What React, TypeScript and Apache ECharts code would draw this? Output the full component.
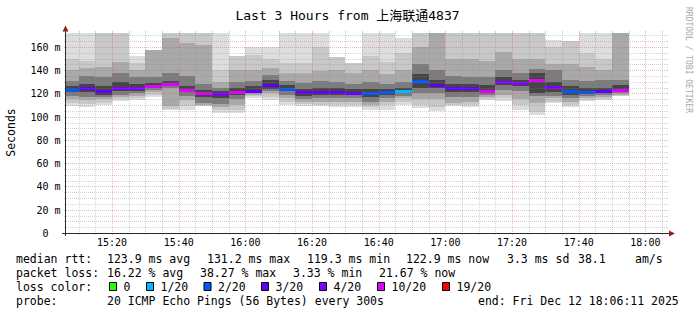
import React, { useEffect, useRef } from "react";
import * as echarts from "echarts";

// ---------- data ----------
const slots = ["15:05","15:10","15:15","15:20","15:25","15:30","15:35","15:40","15:45","15:50","15:55","16:00","16:05","16:10","16:15","16:20","16:25","16:30","16:35","16:40","16:45","16:50","16:55","17:00","17:05","17:10","17:15","17:20","17:25","17:30","17:35","17:40","17:45","17:50"];
const medianMs = [123.0,124.8,122.0,124.8,124.7,126.5,128.3,123.0,120.0,119.3,121.6,122.5,127.5,124.2,121.4,121.4,121.2,120.6,120.2,121.0,121.8,131.0,127.5,124.4,124.5,122.3,130.0,128.7,131.2,125.6,121.8,121.4,121.8,122.9];
const lossPings = [2,3,3,4,4,6,5.67,5.33,7.65,4,5,3,3,2,3,3,3,3,2,2,0.67,2,3,3,3,5.33,4,4,6.33,4,2,2,3,4.33];
// smoke bands, outermost (1) to innermost (5)
const smokeHi1 = [180,180,180,180,152,157.5,180,180,180,180,152,160,160,180,180,180,151,146,180,180,167.5,180,180,180,180,180,180,180,180,166.3,164.7,180,180,180];
const smokeHi2 = [150,148,180,180,146,157.5,180,180,180,140,152,153,150,146,146,160,151,146,152,147,155,180,180,180,180,180,180,180,180,160,164.7,155,150,180];
const smokeHi3 = [140,142,143,147,140,157.5,168,163,162,130,140,140,142,138,138,139,140,138,140,137,140,160,180,150,150,148,156,150,150,145,145,143,140,180];
const smokeHi4 = [131,135,134,138,134,134,138,135,128,125,130,131,136,131,129,131,130,128,130,128,130,145,140,135,134,134,140,138,141,140,132,131,132,132];
const smokeHi5 = [126,128,126,130,128,129,131,126,123,122,125,126,132,127,124,125,125,124,124,124,125,137,132,128,128,127,134,132,138,130,126,125,125,127];
const smokeLo5 = [121,121,119,122,122,125,127,121,117,116,119,121,124,122,118,119,119,118.5,117,119,120,125,125,121,121,121,127,126,120.5,121,119,119.5,120,122];
const smokeLo4 = [118,117,117,119,120,123,125,118,112,111,115,120,122,119,115,116,116,116,113,116,118,120,120,117,117,119,123,122,118,118,116,117.5,118.5,120];
const smokeLo3 = [115,114,115,117,118,121,109,114,110,108,110,119,120,116,113,113,113,113,110,113,116,115,115,112,113,117,119,115,112,116,113,116,117,119];
const smokeLo2 = [112,111,112,115,116,119,106.5,109,109.5,106,106,117.5,117,113,111,110.5,110,110,108,110,113,110,108,110,110,115.5,116,110,104,113,110,114.5,115.5,118];
const smokeLo1 = [109,108.5,110,113.5,114.5,117,105.5,106,109.5,103.5,103.6,116,114.5,110,109.5,109,108.5,108.5,106,106,110.5,107.8,105,109,108.5,114.5,113.8,106,101.7,111.5,108.5,113.5,114.5,117.5];

const yTickValues = [0,20,40,60,80,100,120,140,160];
const xTickLabels = ["15:20","15:40","16:00","16:20","16:40","17:00","17:20","17:40","18:00"];
const lossThresholds = [0,1,2,3,4,10,19];
const lossLabels = ["0","1/20","2/20","3/20","4/20","10/20","19/20"];
const lossColors = ["#26ff00","#00b8ff","#0059ff","#5e00ff","#7e00ff","#dd00ff","#ff0000"];
const rttStats = ["123.9 ms avg","131.2 ms max","119.3 ms min","122.9 ms now","3.3 ms sd","38.1","am/s"];
const lossStats = ["16.22 % avg","38.27 % max","3.33 % min","21.67 % now"];
const probeText = "20 ICMP Echo Pings (56 Bytes) every 300s";
const endText = "end: Fri Dec 12 18:06:11 2025";
const titleText = "Last 3 Hours from 上海联通4837";
const rangeStart = "15:06:11";
const rangeEnd = "18:06:11";
const STEP = 300;
const Y_MAX = 172;

// ---------- layout / style ----------
const MONO = "'DejaVu Sans Mono', 'Noto Sans CJK SC', monospace";
const SHADES = ["#dddddd", "#c8c8c8", "#a9a9a9", "#7c7c7c", "#454545"];
const MINOR = "rgba(140,140,140,0.38)";
const MAJOR = "rgba(215,60,60,0.36)";
const rttX = [107, 207, 307, 406, 507, 578, 635];
const lossX = [107, 200, 293, 379];
const boxX = [109, 146, 203.5, 261, 319, 377, 442];

const toSec = (s: string) => {
  const p = s.split(":").map(Number);
  return p[0] * 3600 + p[1] * 60 + (p[2] || 0);
};
const T0 = toSec(rangeStart);
const T1 = toSec(rangeEnd);

function lossColor(l: number) {
  for (let i = 0; i < lossThresholds.length; i++) if (l <= lossThresholds[i]) return lossColors[i];
  return lossColors[lossColors.length - 1];
}

function txt(x: number, y: number, text: string, o: any = {}) {
  const align = o.align || "left";
  return {
    type: "text",
    x, y,
    rotation: o.rotation || 0,
    silent: true,
    z: 20,
    style: {
      text,
      fontSize: o.size || 11.5,
      fontFamily: o.family || MONO,
      fill: o.fill || "#000",
      align, verticalAlign: "middle",
      textAlign: align, textVerticalAlign: "middle",
    },
  };
}

export default function App() {
  const ref = useRef<HTMLDivElement>(null);
  useEffect(() => {
    const chart = echarts.init(ref.current!, null, { renderer: "svg" });

    const smokeData = slots.map((s, i) => [
      toSec(s),
      smokeLo1[i], smokeHi1[i], smokeLo2[i], smokeHi2[i], smokeLo3[i], smokeHi3[i],
      smokeLo4[i], smokeHi4[i], smokeLo5[i], smokeHi5[i],
    ]);
    const medianData = slots.map((s, i) => [toSec(s), medianMs[i], lossPings[i]]);

    const hGrid: number[][] = [];
    for (let v = 5; v < Y_MAX; v += 5) hGrid.push([T0, v]);
    const vGrid: number[][] = [];
    for (let t = Math.ceil(T0 / STEP) * STEP; t <= T1; t += STEP) vGrid.push([t, 0]);

    const clampRect = (p1: number[], p2: number[], cs: any) => {
      const x1 = Math.max(Math.round(p1[0]), cs.x);
      const x2 = Math.min(Math.round(p2[0]), cs.x + cs.width);
      const y1 = Math.max(Math.round(p1[1]), cs.y);
      const y2 = Math.min(Math.round(p2[1]), cs.y + cs.height);
      return { x: x1, y: y1, width: x2 - x1, height: y2 - y1 };
    };

    const option: any = {
      animation: false,
      backgroundColor: "#ffffff",
      grid: { left: 66, top: 33, width: 600, height: 200 },
      xAxis: { type: "value", min: T0, max: T1, show: false },
      yAxis: { type: "value", min: 0, max: Y_MAX, show: false },
      series: [
        {
          type: "custom",
          name: "smoke",
          silent: true,
          z: 2,
          data: smokeData,
          renderItem: (params: any, api: any) => {
            const cs = params.coordSys;
            const t = api.value(0);
            const children: any[] = [];
            for (let k = 0; k < 5; k++) {
              const lo = api.value(1 + 2 * k);
              const hi = api.value(2 + 2 * k);
              const r = clampRect(api.coord([t, hi]), api.coord([t + STEP, lo]), cs);
              if (r.width > 0 && r.height > 0)
                children.push({ type: "rect", shape: r, style: { fill: SHADES[k] } });
            }
            return { type: "group", children };
          },
        },
        {
          type: "custom",
          name: "median",
          silent: true,
          z: 3,
          data: medianData,
          renderItem: (params: any, api: any) => {
            const cs = params.coordSys;
            const t = api.value(0);
            const p1 = api.coord([t, api.value(1)]);
            const p2 = api.coord([t + STEP, api.value(1)]);
            const x1 = Math.max(Math.round(p1[0]), cs.x);
            const x2 = Math.min(Math.round(p2[0]), cs.x + cs.width);
            const yc = Math.round(p1[1]);
            return {
              type: "rect",
              shape: { x: x1, y: yc - 1, width: x2 - x1, height: 3 },
              style: { fill: lossColor(api.value(2)) },
            };
          },
        },
        {
          type: "custom",
          name: "hgrid",
          silent: true,
          z: 4,
          clip: false,
          data: hGrid,
          renderItem: (params: any, api: any) => {
            const cs = params.coordSys;
            const v = api.value(1);
            const y = Math.round(api.coord([T0, v])[1]) + 0.5;
            const c = v % 20 === 0 ? MAJOR : MINOR;
            const X0 = cs.x, X1 = cs.x + cs.width;
            return {
              type: "group",
              children: [
                { type: "line", shape: { x1: X0 - 2, y1: y, x2: X0, y2: y }, style: { stroke: c, lineWidth: 1 } },
                { type: "line", shape: { x1: X1, y1: y, x2: X1 + 2, y2: y }, style: { stroke: c, lineWidth: 1 } },
                { type: "line", shape: { x1: X0, y1: y, x2: X1, y2: y }, style: { stroke: c, lineWidth: 1, lineDash: [1, 1] } },
              ],
            };
          },
        },
        {
          type: "custom",
          name: "vgrid",
          silent: true,
          z: 4,
          clip: false,
          data: vGrid,
          renderItem: (params: any, api: any) => {
            const cs = params.coordSys;
            const t = api.value(0);
            const x = Math.round(api.coord([t, 0])[0]) + 0.5;
            const c = t % 1200 === 0 ? MAJOR : MINOR;
            const Y0 = cs.y + cs.height, Y1 = cs.y;
            return {
              type: "group",
              children: [
                { type: "line", shape: { x1: x, y1: Y0, x2: x, y2: Y0 + 2 }, style: { stroke: c, lineWidth: 1 } },
                { type: "line", shape: { x1: x, y1: Y1 - 2, x2: x, y2: Y1 }, style: { stroke: c, lineWidth: 1 } },
                { type: "line", shape: { x1: x, y1: Y1, x2: x, y2: Y0 }, style: { stroke: c, lineWidth: 1, lineDash: [1, 1] } },
              ],
            };
          },
        },
        {
          type: "custom",
          name: "xlabels",
          silent: true,
          z: 5,
          clip: false,
          data: xTickLabels.map((s) => [toSec(s), 0]),
          renderItem: (params: any, api: any) => {
            const cs = params.coordSys;
            const p = api.coord([api.value(0), 0]);
            return txt(p[0], cs.y + cs.height + 9.5, xTickLabels[params.dataIndex], { size: 10, align: "center" });
          },
        },
        {
          type: "custom",
          name: "ylabels",
          silent: true,
          z: 5,
          clip: false,
          data: yTickValues.map((v) => [T0, v]),
          renderItem: (params: any, api: any) => {
            const cs = params.coordSys;
            const v = api.value(1);
            const p = api.coord([T0, v]);
            const label = v === 0 ? "0" : `${v} m`;
            const right = v === 0 ? cs.x - 5.5 - 12 : cs.x - 5.5;
            return txt(right, p[1] + 0.3, label, { size: 10, align: "right" });
          },
        },
      ],
      graphic: [
        // axes
        { type: "line", silent: true, z: 10, shape: { x1: 65.5, y1: 236, x2: 65.5, y2: 31 }, style: { stroke: "#2a2a2a", lineWidth: 1 } },
        { type: "line", silent: true, z: 10, shape: { x1: 62, y1: 233.5, x2: 669, y2: 233.5 }, style: { stroke: "#2a2a2a", lineWidth: 1 } },
        { type: "polygon", silent: true, z: 10, shape: { points: [[65.5, 25.5], [62.5, 31.5], [68.5, 31.5]] }, style: { fill: "#a01c1c" } },
        { type: "polygon", silent: true, z: 10, shape: { points: [[675, 233.5], [669, 230.5], [669, 236.5]] }, style: { fill: "#a01c1c" } },
        // titles
        txt(347.5, 15, titleText, { size: 13, align: "center" }),
        txt(11, 132.5, "Seconds", { size: 11.5, align: "center", rotation: Math.PI / 2 }),
        txt(688, 60, "RRDTOOL / TOBI OETIKER", { size: 8, align: "center", rotation: -Math.PI / 2, fill: "#a8a8a8" }),
        // legend rows
        txt(16, 259, "median rtt:"),
        ...rttStats.map((s, i) => txt(rttX[i], 259, s)),
        txt(16, 273, "packet loss:"),
        ...lossStats.map((s, i) => txt(lossX[i], 273, s)),
        txt(16, 287, "loss color:"),
        ...lossLabels.map((s, i) => ({
          type: "rect",
          silent: true,
          z: 20,
          shape: { x: boxX[i] + 0.5, y: 282.5, width: 7, height: 8 },
          style: { fill: lossColors[i], stroke: "#000", lineWidth: 1 },
        })),
        ...lossLabels.map((s, i) => txt(boxX[i] + 14.5, 287, s)),
        txt(16, 301, "probe:"),
        txt(107, 301, probeText),
        txt(478, 301, endText),
      ],
    };

    chart.setOption(option);
    return () => chart.dispose();
  }, []);

  return (
    <div
      ref={ref}
      style={{ position: "absolute", left: 0, top: 0, width: 697, height: 315, background: "#fff" }}
    />
  );
}
